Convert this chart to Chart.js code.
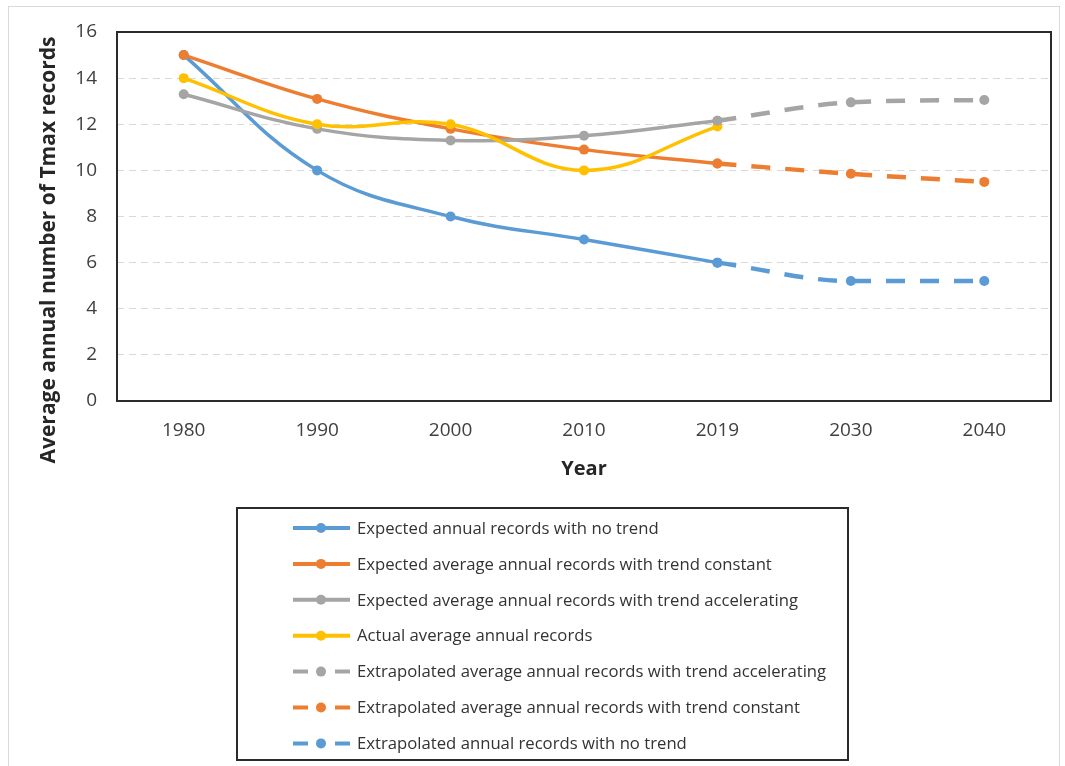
<!DOCTYPE html>
<html>
<head>
<meta charset="utf-8">
<script src="https://cdn.jsdelivr.net/npm/chart.js@4/dist/chart.umd.min.js"></script>
<style>
  html, body { margin: 0; padding: 0; background: #fff; }
  #wrap { position: relative; width: 1065px; height: 766px; }
  #frame { position: absolute; left: 8px; top: 6px; width: 1052px; height: 780px; border: 1px solid #d9d9d9; box-sizing: border-box; pointer-events: none; }
</style>
</head>
<body>
<div id="wrap">
  <div id="frame"></div>
  <canvas id="chart" width="1065" height="766"></canvas>
</div>
<script>
// Years on the category axis
const years = ['1980', '1990', '2000', '2010', '2019', '2030', '2040'];
const yTicks = [0, 2, 4, 6, 8, 10, 12, 14, 16];

// Observed / modelled period
const noTrend        = [15, 10, 8, 7, 6, null, null];
const trendConstant  = [15, 13.1, 11.8, 10.9, 10.3, null, null];
const trendAccel     = [13.3, 11.8, 11.3, 11.5, 12.15, null, null];
const actual         = [14, 12, 12, 10, 11.9, null, null];

// Extrapolation beyond 2019
const extrapAccel    = [null, null, null, null, 12.15, 12.95, 13.05];
const extrapConstant = [null, null, null, null, 10.3, 9.85, 9.5];
const extrapNoTrend  = [null, null, null, null, 6, 5.2, 5.2];

const labels = [
  'Expected annual records with no trend',
  'Expected average annual records with trend constant',
  'Expected average annual records with trend accelerating',
  'Actual average annual records',
  'Extrapolated average annual records with trend accelerating',
  'Extrapolated average annual records with trend constant',
  'Extrapolated annual records with no trend'
];
const yTitle = 'Average annual number of Tmax records';

const BLUE = '#5B9BD5', ORANGE = '#ED7D31', GREY = '#A5A5A5', GOLD = '#FFC000';
const FONT = 'Open Sans';
const DASH = [19, 15];

function series(i, data, color, dashed) {
  return {
    label: labels[i],
    data: data,
    borderColor: color,
    backgroundColor: color,
    pointBackgroundColor: color,
    pointBorderColor: color,
    borderWidth: dashed ? 4.5 : 3.5,
    borderDash: dashed ? DASH : [],
    pointRadius: 5,
    pointBorderWidth: 0,
    tension: 0.4,
    cubicInterpolationMode: dashed ? 'monotone' : 'default',
    spanGaps: false,
    order: 10 - i
  };
}

const datasets = [
  series(0, noTrend, BLUE, false),
  series(1, trendConstant, ORANGE, false),
  series(2, trendAccel, GREY, false),
  series(3, actual, GOLD, false),
  series(4, extrapAccel, GREY, true),
  series(5, extrapConstant, ORANGE, true),
  series(6, extrapNoTrend, BLUE, true)
];

// Black frame round the plot area, plus the vertical axis title
const plotFrame = {
  id: 'plotFrame',
  beforeDatasetsDraw(chart) {
    const { ctx, chartArea: a } = chart;
    ctx.save();
    ctx.strokeStyle = '#2b2b2b';
    ctx.lineWidth = 2;
    ctx.strokeRect(a.left, a.top, a.right - a.left, a.bottom - a.top);
    ctx.translate(49, 250);
    ctx.rotate(-Math.PI / 2);
    ctx.font = 'bold 21px "' + FONT + '"';
    ctx.fillStyle = '#262626';
    ctx.textAlign = 'center';
    ctx.textBaseline = 'middle';
    ctx.fillText(yTitle, 0, 0);
    ctx.restore();
  }
};

// Boxed legend below the axes, one entry per row
const boxedLegend = {
  id: 'boxedLegend',
  afterDraw(chart) {
    const { ctx } = chart;
    const box = { left: 237, top: 508, right: 848, bottom: 760 };
    ctx.save();
    ctx.strokeStyle = '#2b2b2b';
    ctx.lineWidth = 2;
    ctx.strokeRect(box.left, box.top, box.right - box.left, box.bottom - box.top);
    ctx.font = '16.7px "' + FONT + '"';
    ctx.textBaseline = 'middle';
    ctx.textAlign = 'left';
    chart.data.datasets.forEach((ds, i) => {
      const y = 528 + i * 35.9;
      const x0 = 293, x1 = 350, xm = 321;
      ctx.strokeStyle = ds.borderColor;
      ctx.lineWidth = 4;
      ctx.beginPath();
      if (ds.borderDash.length) {
        ctx.moveTo(x0, y); ctx.lineTo(x0 + 15, y);
        ctx.moveTo(x1 - 15, y); ctx.lineTo(x1, y);
      } else {
        ctx.moveTo(x0, y); ctx.lineTo(x1, y);
      }
      ctx.stroke();
      ctx.fillStyle = ds.borderColor;
      ctx.beginPath();
      ctx.arc(xm, y, 5, 0, Math.PI * 2);
      ctx.fill();
      ctx.fillStyle = '#333333';
      ctx.fillText(ds.label, 357, y + 1);
    });
    ctx.restore();
  }
};

new Chart(document.getElementById('chart'), {
  type: 'line',
  data: { labels: years, datasets: datasets },
  plugins: [plotFrame, boxedLegend],
  options: {
    responsive: false,
    animation: false,
    layout: { padding: { left: 36, top: 32, right: 14, bottom: 285 } },
    plugins: {
      legend: { display: false },
      tooltip: { enabled: false }
    },
    scales: {
      x: {
        offset: true,
        grid: { display: false, drawTicks: false },
        border: { display: false },
        ticks: { color: '#404040', padding: 18, font: { family: FONT, size: 19 } },
        title: {
          display: true,
          text: 'Year',
          color: '#262626',
          font: { family: FONT, size: 20, weight: 'bold' },
          padding: { top: 4, bottom: 0 }
        },
        afterFit(scale) { scale.height = 80; }
      },
      y: {
        min: 0,
        max: 16,
        afterBuildTicks(scale) { scale.ticks = yTicks.map(v => ({ value: v })); },
        grid: {
          drawTicks: false,
          color: ctx => (ctx.tick && (ctx.tick.value === 0 || ctx.tick.value === 16)) ? 'rgba(0,0,0,0)' : '#d9d9d9',
          lineWidth: 1
        },
        border: { display: false, dash: [7, 5] },
        ticks: { color: '#404040', padding: 20, font: { family: FONT, size: 19 } },
        title: { display: false },
        afterFit(scale) { scale.width = 81; }
      }
    }
  }
});
</script>
</body>
</html>
